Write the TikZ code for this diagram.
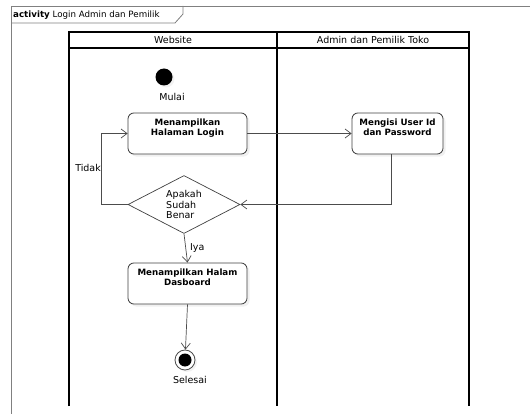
\documentclass[tikz,border=0pt]{standalone}
\usepackage{fontspec}
\setmainfont{DejaVu Sans}
\usetikzlibrary{arrows.meta,positioning,shapes.geometric,shadows}

\begin{document}
\begin{tikzpicture}[x=1pt, y=-1pt,
	every node/.style={font=\fontsize{9.5}{10.5}\selectfont},
	action/.style={draw=black!75, fill=white, rounded corners=6pt, line width=0.8pt,
		minimum width=119pt, minimum height=41pt, inner ysep=5.5pt, text depth=13pt,
		align=center, font=\fontsize{8.7}{10.5}\selectfont\bfseries,
		drop shadow={shadow xshift=2.5pt, shadow yshift=-2.5pt, opacity=0.12}},
	decision/.style={diamond, draw=black!75, fill=white, line width=0.7pt, aspect=2, inner sep=0pt,
		minimum width=112pt, minimum height=58pt, align=left},
	start/.style={circle, fill=black, minimum size=17pt, inner sep=0pt,
		drop shadow={shadow xshift=2pt, shadow yshift=-2pt, opacity=0.1}},
	final/.style={circle, draw=black!70, fill=white, line width=0.8pt, minimum size=20pt, inner sep=0pt,
		path picture={\fill[black] (path picture bounding box.center) circle (6.5pt);},
		drop shadow={shadow xshift=2pt, shadow yshift=-2pt, opacity=0.1}},
	flow/.style={draw=black!70, line width=0.7pt, -{Straight Barb[length=6pt,width=9pt]}},
	lane/.style={line width=1.2pt}]
	\useasboundingbox (0,0) rectangle (530,414);

	% frame
	\draw[black!50, line width=0.8pt] (11,414) -- (11,6) -- (530,6);
	\draw[black!50, line width=0.8pt] (11,23) -- (175,23) -- (183,14) -- (183,6);
	\node[anchor=west, inner sep=0pt, font=\fontsize{8.7}{10}\selectfont] (judul) at (13,15) {\textbf{activity} Login Admin dan Pemilik};

	% swimlanes
	\draw[lane] (69,406) -- (69,32) -- (469,32) -- (469,406);
	\draw[lane] (69,48) -- (469,48);
	\draw[lane] (277,32) -- (277,406);
	\node (website) at (173,40) {Website};
	\node (pemilik) at (373,40) {Admin dan Pemilik Toko};

	\node[start, label={[xshift=8pt, label distance=4pt]below:Mulai}] (mulai) at (164,77) {};
	\node[action] (login) at (187.5,133.5) {Menampilkan\\Halaman Login};
	\node[action, minimum width=91pt] (isi) at (397.5,133.5) {Mengisi User Id\\dan Password};
	\node[decision] (cek) at (184,204.5) {Apakah\\Sudah\\Benar};
	\node[action] (dasboard) at (187.5,283.5) {Menampilkan Halam\\Dasboard};
	\node[final, label={[xshift=5pt, label distance=2pt]below:Selesai}] (selesai) at (185,360) {};

	\draw[flow] (login) -- (isi);
	\draw[flow] ([xshift=-6pt]isi.south) |- (cek.east);
	\draw[flow] (cek.west) -- ++(-26,0) |- node[pos=0.26, left, inner sep=0.5pt] {Tidak} (login.west);
	\draw[flow] (cek.south) -- node[right, inner sep=4pt] {Iya} (dasboard.north);
	\draw[flow] (dasboard.south) -- (selesai);
\end{tikzpicture}
\end{document}
